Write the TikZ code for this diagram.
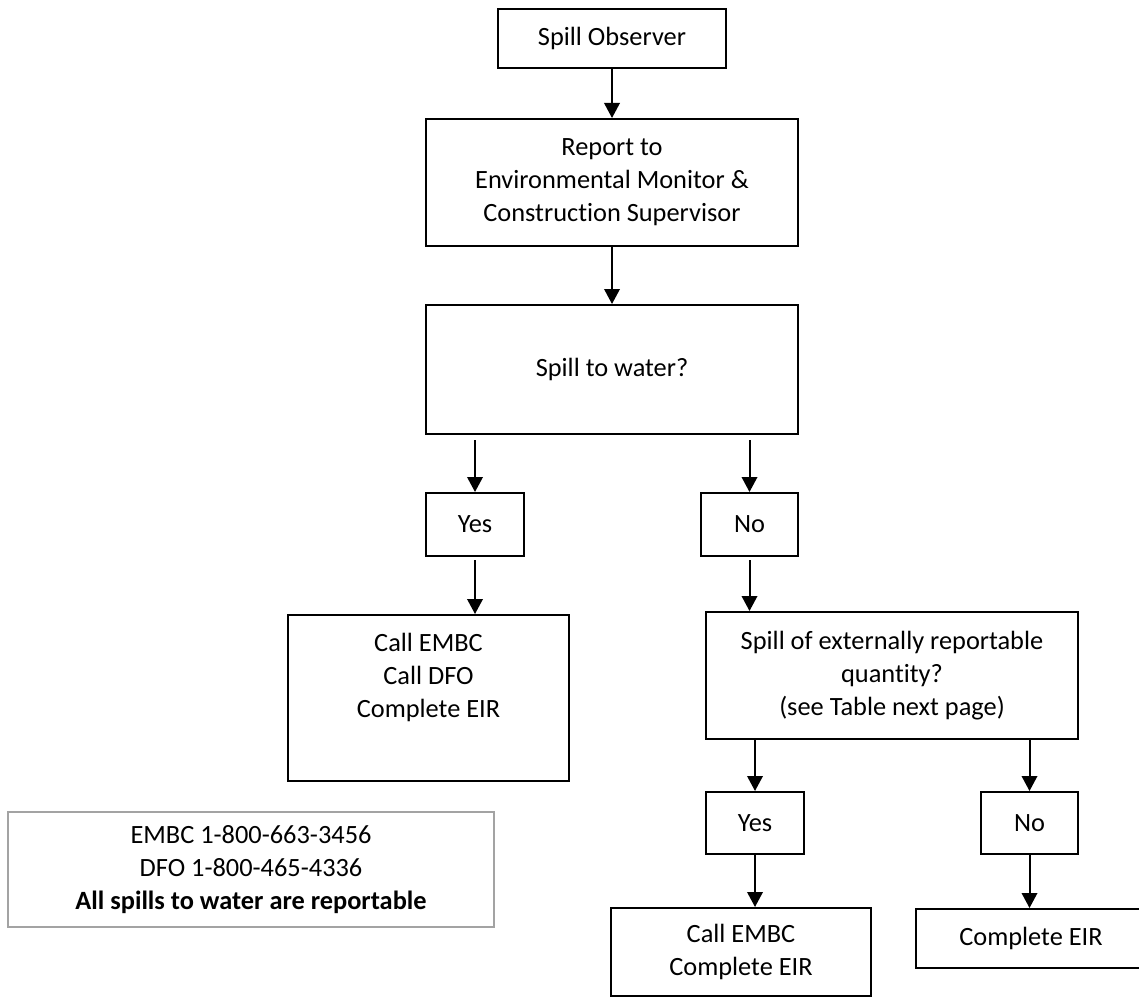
\documentclass[tikz,border=0pt]{standalone}
\usepackage{fontspec}
\setmainfont[Ligatures=NoCommon]{Carlito}
\usepackage{tikz}
\usetikzlibrary{arrows.meta, positioning}
\definecolor{mline}{HTML}{000000}
\definecolor{mgray}{HTML}{A3A3A3}
\tikzset{
  flowbox/.style={draw=mline, line width=1.15pt, fill=white, inner sep=0pt,
                  align=center, font=\fontsize{15}{18.8}\selectfont},
  topbox/.style={flowbox, anchor=north, inner ysep=0.36cm, text depth=0.92cm},
  notebox/.style={draw=mgray, line width=1.15pt, fill=white, inner sep=0pt,
                  align=center, font=\fontsize{15}{18.8}\selectfont},
  arr/.style={-{Triangle[length=0.3cm, width=0.31cm]}, line width=1.15pt, mline},
}
\begin{document}
\begin{tikzpicture}
    \useasboundingbox (0,0) rectangle (22.78,-19.96);

    \node[flowbox, minimum width=4.56cm, minimum height=1.18cm] (obs) at (12.24, -0.77) {Spill Observer};
    \node[flowbox, minimum width=7.44cm, minimum height=2.54cm] (report) at (12.24, -3.65) {Report to\\Environmental Monitor \&\\Construction Supervisor};
    \node[flowbox, minimum width=7.44cm, minimum height=2.58cm] (water) at (12.24, -7.39) {Spill to water?};

    \node[flowbox, minimum width=1.96cm, minimum height=1.26cm] (yes1) at (9.50, -10.49) {Yes};
    \node[flowbox, minimum width=1.94cm, minimum height=1.26cm] (no1) at (14.99, -10.49) {No};

    \node[topbox, minimum width=5.62cm] (callall) at (8.57, -12.28) {Call EMBC\\Call DFO\\Complete EIR};
    \node[flowbox, minimum width=7.44cm, minimum height=2.54cm] (spillq) at (17.84, -13.51) {Spill of externally reportable\\quantity?\\(see Table next page)};

    \node[flowbox, minimum width=1.96cm, minimum height=1.24cm] (yes2) at (15.10, -16.46) {Yes};
    \node[flowbox, minimum width=1.94cm, minimum height=1.24cm] (no2) at (20.59, -16.46) {No};

    \node[flowbox, minimum width=5.20cm, minimum height=1.76cm] (callemb) at (14.82, -19.04) {Call EMBC\\Complete EIR};
    \node[flowbox, minimum width=4.60cm, minimum height=1.18cm] (complete) at (20.62, -18.77) {Complete EIR};

    \node[notebox, minimum width=9.72cm, minimum height=2.30cm] (info) at (5.02, -17.39) {EMBC 1-800-663-3456\\DFO 1-800-465-4336\\\textbf{All spills to water are reportable}};

    \draw[arr] (obs) -- (report);
    \draw[arr] (report) -- (water);
    \draw[arr, shorten <=0.1cm] (water.south -| yes1.north) -- (yes1.north);
    \draw[arr, shorten <=0.1cm] (water.south -| no1.north) -- (no1.north);
    \draw[arr, shorten <=0.06cm] (yes1.south) -- (yes1.south |- callall.north);
    \draw[arr, shorten <=0.06cm] (no1.south) -- (no1.south |- spillq.north);
    \draw[arr] (spillq.south -| yes2.north) -- (yes2.north);
    \draw[arr] (spillq.south -| no2.north) -- (no2.north);
    \draw[arr] (yes2.south) -- (yes2.south |- callemb.north);
    \draw[arr] (no2.south) -- (no2.south |- complete.north);
  \end{tikzpicture}
\end{document}
